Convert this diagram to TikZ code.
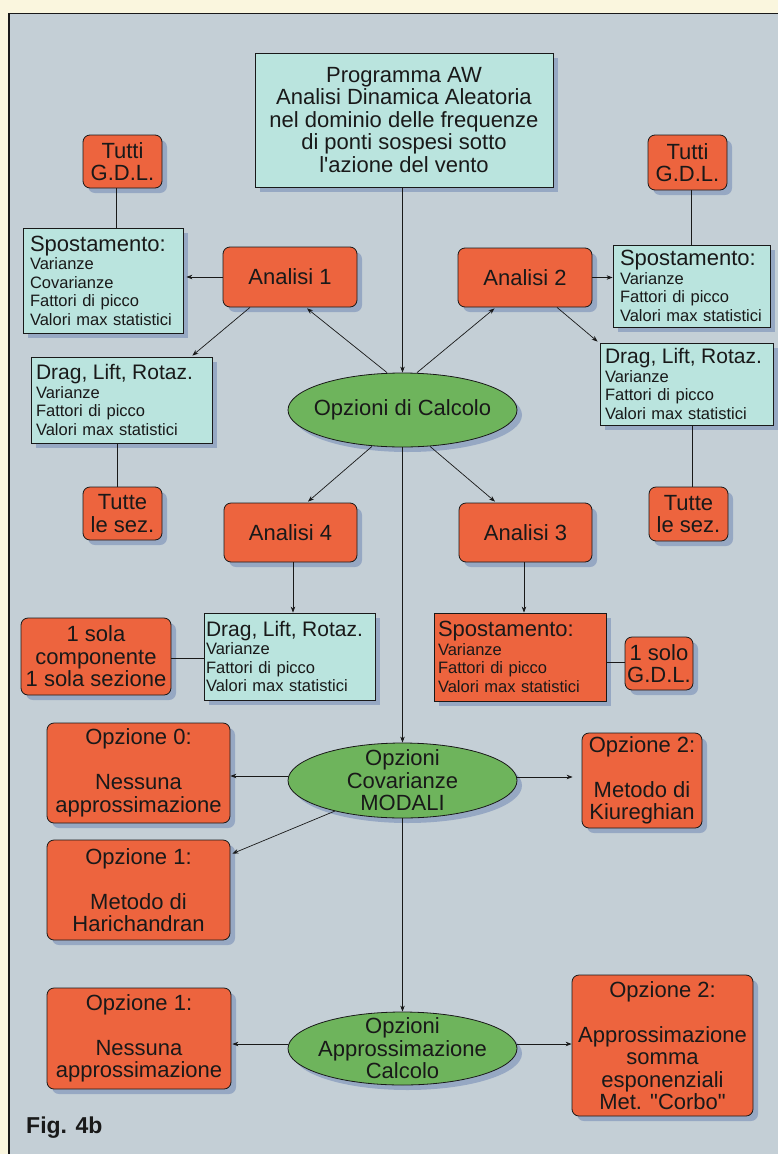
\documentclass[tikz,border=0pt]{standalone}
\usepackage{fontspec}
\setmainfont{Liberation Sans}[Ligatures=TeXOff]
\usetikzlibrary{shapes.geometric,shadows,calc,arrows.meta}
\definecolor{cream}{RGB}{250,246,222}
\definecolor{bgc}{RGB}{196,207,214}
\definecolor{orng}{RGB}{237,100,62}
\definecolor{cyanb}{RGB}{186,228,222}
\definecolor{grn}{RGB}{110,180,92}
\definecolor{shadowc}{RGB}{146,164,194}
\definecolor{ink}{RGB}{25,25,25}
\newcommand{\fMain}{\fontsize{22}{22.5}\selectfont}
\newcommand{\fHead}{\fontsize{21}{22}\selectfont}
\newcommand{\fHeadS}{\fontsize{22}{22}\selectfont}
\newcommand{\fSub}{\fontsize{16.5}{18.5}\selectfont}
\begin{document}
\begin{tikzpicture}[x=1pt,y=-1pt,
  shadowed/.style={drop shadow={shadow xshift=5pt,shadow yshift=-5pt,fill=shadowc,opacity=0.9}},
  obox/.style={shadowed, draw=ink, line width=0.8pt, fill=orng, rounded corners=7pt, inner sep=1pt, align=center, font=\fMain, text=ink},
  tbox/.style={shadowed, draw=ink, line width=0.8pt, fill=cyanb, inner ysep=1pt, align=left, font=\fSub, text=ink},
  ell/.style={shadowed, ellipse, draw=ink, line width=0.8pt, fill=grn, inner sep=0pt},
  elltext/.style={font=\fMain, align=center, text=ink, inner sep=0pt},
  arr/.style={draw=ink, line width=0.7pt, -{Stealth[length=6pt,width=4.5pt]}},
  lnk/.style={draw=ink, line width=0.7pt},
]
\useasboundingbox (0,0) rectangle (778,1154);
\fill[cream] (0,0) rectangle (778,1154);
\fill[bgc] (9,13.5) rectangle (778,1154);
\draw[ink, line width=1.5pt] (9,1154) -- (9,13.5) -- (778,13.5);

% top program box
\node[tbox, align=center, font=\fMain, minimum width=298, minimum height=134] (prog) at (404,120)
  {Programma AW\\Analisi Dinamica Aleatoria\\nel dominio delle frequenze\\di ponti sospesi sotto\\l'azione del vento};

% upper left
\node[obox, minimum width=79, minimum height=53] (tgl) at (122.5,161.5) {Tutti\\G.D.L.};
\node[tbox, inner xsep=7, text width=146, minimum height=105] (spl) at (103,280.5)
  {{\fHeadS Spostamento:}\\\fSub Varianze\\Covarianze\\Fattori di picco\\Valori max statistici};
\node[obox, minimum width=134, minimum height=60] (an1) at (290,277) {Analisi 1};
\node[tbox, inner xsep=5, text width=171, minimum height=86] (drl) at (121.5,400)
  {{\fHead Drag, Lift, Rotaz.}\\\fSub Varianze\\Fattori di picco\\Valori max statistici};
\node[obox, minimum width=79, minimum height=53] (tsl) at (122.5,513.5) {Tutte\\le sez.};

% upper right
\node[obox, minimum width=79, minimum height=55] (tgr) at (687.5,162.5) {Tutti\\G.D.L.};
\node[tbox, inner xsep=7, text width=143, minimum height=82] (spr) at (691.5,286)
  {{\fHeadS Spostamento:}\\\fSub Varianze\\Fattori di picco\\Valori max statistici};
\node[obox, minimum width=134, minimum height=59] (an2) at (525,277.5) {Analisi 2};
\node[tbox, inner xsep=5, text width=163, minimum height=82] (drr) at (686.5,384)
  {{\fHead Drag, Lift, Rotaz.}\\\fSub Varianze\\Fattori di picco\\Valori max statistici};
\node[obox, minimum width=79, minimum height=54] (tsr) at (688.5,514) {Tutte\\le sez.};

% options ellipse 1
\node[ell, minimum width=229, minimum height=74,
  label={[elltext]center:Opzioni di Calcolo}] (opc) at (402.5,410) {};

% analisi 3 / 4
\node[obox, minimum width=133, minimum height=59] (an4) at (290.5,532.5) {Analisi 4};
\node[obox, minimum width=133, minimum height=59] (an3) at (525.5,532.5) {Analisi 3};
\node[obox, minimum width=150, minimum height=77] (sola) at (96,656.5) {1 sola\\componente\\1 sola sezione};
\node[tbox, inner xsep=2, text width=167, minimum height=87] (dr4) at (289.5,656.5)
  {{\fHead Drag, Lift, Rotaz.}\\\fSub Varianze\\Fattori di picco\\Valori max statistici};
\node[tbox, fill=orng, inner xsep=4, text width=164, minimum height=88] (sp3) at (520,657)
  {{\fHeadS Spostamento:}\\\fSub Varianze\\Fattori di picco\\Valori max statistici};
\node[obox, minimum width=68, minimum height=53, inner sep=0.5pt] (solo) at (659,663.5) {1 solo\\G.D.L.};

% covarianze
\node[ell, minimum width=229, minimum height=75,
  label={[elltext]center:Opzioni\\Covarianze\\MODALI}] (ell2) at (402.5,780.5) {};
\node[obox, minimum width=183, minimum height=100] (op0) at (138.5,773) {Opzione 0:\\[22.5pt]Nessuna\\approssimazione};
\node[obox, minimum width=183, minimum height=100] (op1) at (138.5,890) {Opzione 1:\\[22.5pt]Metodo di\\Harichandran};
\node[obox, minimum width=120, minimum height=95] (op2) at (642,780.5) {Opzione 2:\\[22.5pt]Metodo di\\Kiureghian};

% approssimazione
\node[ell, minimum width=229, minimum height=73,
  label={[elltext]center:Opzioni\\Approssimazione\\Calcolo}] (ell3) at (402.5,1048.5) {};
\node[obox, minimum width=184, minimum height=101] (op1b) at (139,1038.5) {Opzione 1:\\[22.5pt]Nessuna\\approssimazione};
\node[obox, minimum width=181, minimum height=141] (op2b) at (662.5,1045.5) {Opzione 2:\\[22.5pt]Approssimazione\\somma\\esponenziali\\Met. "Corbo"};

\node[anchor=base west, font=\fontsize{23}{23}\selectfont\bfseries, text=ink, inner sep=0pt] (fig) at (26,1133) {Fig. 4b};

% connectors
\draw[arr] (opc.north |- prog.south) -- (opc.north);
\draw[arr] (opc.south) -- (ell2.north);
\draw[arr] (ell2.south) -- (ell3.north);

\draw[arr] ($(opc.north)+(-15.5,0)$) -- ($(an1.south)+(17,1)$);
\draw[arr] ($(opc.north)+(14.5,0)$) -- ($(an2.south)+(-30.5,1)$);
\draw[arr] ($(an1.south)+(-40,0)$) -- ($(drl.north east)+(-20,-1)$);
\draw[arr] ($(an2.south)+(32,0)$) -- ($(drr.north west)+(-2,-1)$);
\draw[arr] ($(opc.south)+(-30.5,-1)$) -- ($(an4.north)+(17.5,-1)$);
\draw[arr] ($(opc.south)+(27.5,-1)$) -- ($(an3.north)+(-30.5,-1)$);
\draw[arr] (an1.west) -- ($(spl.east |- an1.west)+(3,0)$);
\draw[arr] (an2.east) -- (spr.west |- an2.east);
\draw[arr] ($(an4.south)+(2.5,0)$) -- ($(dr4.north)+(3.5,0)$);
\draw[arr] ($(an3.south)+(-1.5,0)$) -- ($(sp3.north)+(4,0)$);

\draw[lnk] ($(tgl.south)+(-6.5,0)$) -- ($(spl.north)+(13,0)$);
\draw[lnk] ($(drl.south)+(-4.5,0)$) -- ($(tsl.north)+(-5.5,0)$);
\draw[lnk] ($(tgr.south)+(3.5,0)$) -- ($(spr.north)+(-0.5,0)$);
\draw[lnk] ($(drr.south)+(5.5,0)$) -- ($(tsr.north)+(3.5,0)$);
\draw[lnk] ($(sola.east)+(0,1.5)$) -- ($(dr4.west)+(0,1.5)$);
\draw[lnk] ($(sp3.east)+(0,5)$) -- ($(solo.west)+(0,-1.5)$);

\draw[arr] ($(ell2.west)+(0.5,-4.5)$) -- ($(op0.east)+(0,3)$);
\draw[arr] ($(ell2.center)+(-67.5,30.5)$) -- ($(op1.north east)+(2,14)$);
\draw[arr, shorten >=9pt] ($(ell2.east)+(-0.5,-3.5)$) -- ($(op2.west)+(0,-3.5)$);
\draw[arr] ($(ell3.west)+(0.5,-4.5)$) -- ($(op1b.east)+(1,5.5)$);
\draw[arr] ($(ell3.east)+(-0.5,-4.5)$) -- ($(op2b.west)+(0,-1.5)$);
\end{tikzpicture}
\end{document}
